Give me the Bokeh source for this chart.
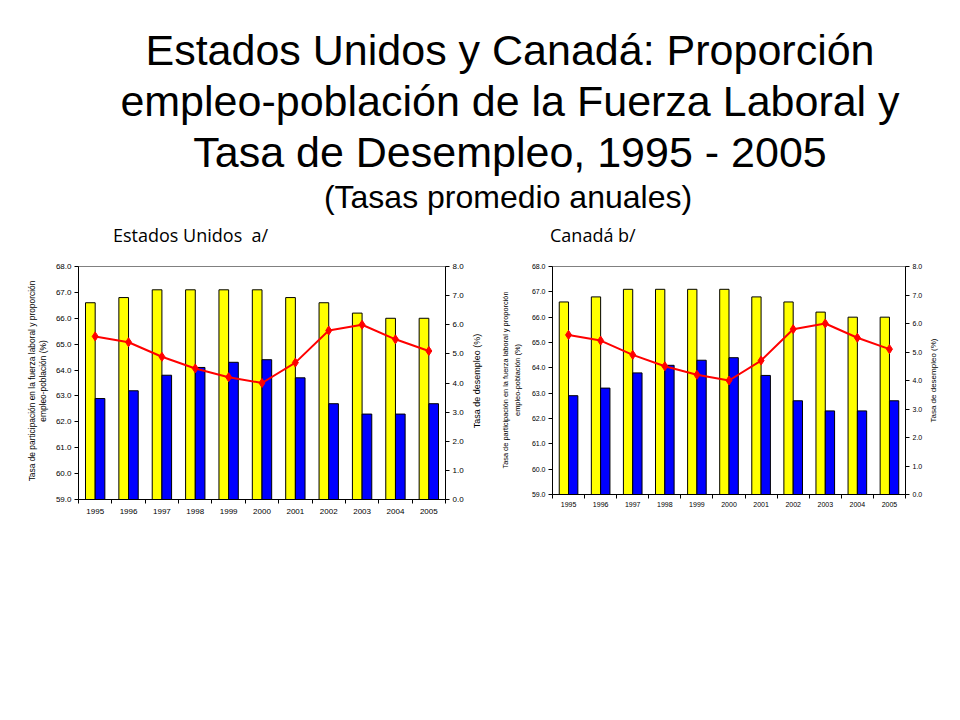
import numpy as np
from bokeh.plotting import figure
from bokeh.models import (Range1d, LinearAxis, FixedTicker, Legend, LegendItem,
                          Div, NumeralTickFormatter)
from bokeh.layouts import column, row
from bokeh.embed import file_html
from bokeh.resources import INLINE

# ---------------- data ----------------
years = ["1995", "1996", "1997", "1998", "1999", "2000",
         "2001", "2002", "2003", "2004", "2005"]

us_participation = [66.6, 66.8, 67.1, 67.1, 67.1, 67.1, 66.8, 66.6, 66.2, 66.0, 66.0]
us_employment = [62.9, 63.2, 63.8, 64.1, 64.3, 64.4, 63.7, 62.7, 62.3, 62.3, 62.7]
us_unemployment = [5.6, 5.4, 4.9, 4.5, 4.2, 4.0, 4.7, 5.8, 6.0, 5.5, 5.1]

ca_participation = [66.6, 66.8, 67.1, 67.1, 67.1, 67.1, 66.8, 66.6, 66.2, 66.0, 66.0]
ca_employment = [62.9, 63.2, 63.8, 64.1, 64.3, 64.4, 63.7, 62.7, 62.3, 62.3, 62.7]
ca_unemployment = [5.6, 5.4, 4.9, 4.5, 4.2, 4.0, 4.7, 5.8, 6.0, 5.5, 5.1]

left_ticks = [59, 60, 61, 62, 63, 64, 65, 66, 67, 68]
right_ticks = [0, 1, 2, 3, 4, 5, 6, 7, 8]

us_labels = ["Tasa de participación en la fuerza laboral",
             "Proporción Empleo-Población",
             "Tasa de desempleo"]
ca_labels = ["Tasa de participación en la fuerza laboral",
             "Proporción empleo-población",
             "Tasa de desempleo"]
left_axis_lines = ["Tasa de participación en la fuerza laboral y proporción",
                   "empleo-población (%)"]
right_axis_label = "Tasa de desempleo (%)"

FONT = "Liberation Sans"
ROW_H = 302


def make_chart(part, emp, unemp, labels, frame_w, frame_h, bl, br, bt, bb,
               tick_fs, x_standoff, leg_fs, leg_margin, leg_pad, leg_spacing,
               glyph_w, leg_label_h):
    n = len(years)
    centers = np.arange(n) + 0.5
    p = figure(frame_width=frame_w, frame_height=frame_h, x_range=Range1d(0, n),
               y_range=Range1d(left_ticks[0], left_ticks[-1]),
               output_backend="svg", toolbar_location=None,
               min_border_left=bl, min_border_right=br,
               min_border_top=bt, min_border_bottom=bb)
    p.extra_y_ranges = {"u": Range1d(right_ticks[0], right_ticks[-1])}
    p.xgrid.visible = False
    p.ygrid.visible = False
    p.outline_line_color = "#808080"

    r_y = p.vbar(x=centers - 0.145, top=part, bottom=left_ticks[0], width=0.29,
                 fill_color="#FFFF00", line_color="black", line_width=1)
    r_b = p.vbar(x=centers + 0.145, top=emp, bottom=left_ticks[0], width=0.29,
                 fill_color="#0000FF", line_color="black", line_width=1)
    r_l = p.line(x=centers, y=unemp, y_range_name="u", line_color="#FF0000", line_width=2)
    r_s = p.scatter(x=centers, y=unemp, y_range_name="u", marker="diamond", size=9,
                    fill_color="#FF0000", line_color="#FF0000")

    xa = p.xaxis[0]
    xa.ticker = FixedTicker(ticks=list(centers), minor_ticks=list(range(n + 1)))
    xa.major_label_overrides = {float(c): y for c, y in zip(centers, years)}
    xa.major_tick_line_color = None
    xa.minor_tick_out = 4
    xa.minor_tick_in = 0
    xa.major_label_standoff = x_standoff
    xa.major_label_text_font = FONT
    xa.major_label_text_font_size = tick_fs
    xa.major_label_text_color = "black"

    ya = p.yaxis[0]
    ya.ticker = FixedTicker(ticks=left_ticks)
    ya.formatter = NumeralTickFormatter(format="0.0")
    ya.major_tick_out = 4
    ya.major_tick_in = 0
    ya.minor_tick_line_color = None
    ya.major_label_standoff = 3
    ya.major_label_text_font = FONT
    ya.major_label_text_font_size = tick_fs
    ya.major_label_text_color = "black"

    ra = LinearAxis(y_range_name="u", ticker=FixedTicker(ticks=right_ticks),
                    formatter=NumeralTickFormatter(format="0.0"))
    ra.major_tick_out = 4
    ra.major_tick_in = 0
    ra.minor_tick_line_color = None
    ra.major_label_standoff = 3
    ra.major_label_text_font = FONT
    ra.major_label_text_font_size = tick_fs
    ra.major_label_text_color = "black"
    p.add_layout(ra, "right")

    legend = Legend(items=[LegendItem(label=labels[0], renderers=[r_y]),
                           LegendItem(label=labels[1], renderers=[r_b]),
                           LegendItem(label=labels[2], renderers=[r_l, r_s])],
                    orientation="horizontal", location="center",
                    border_line_color="black", border_line_width=1,
                    background_fill_color="white",
                    glyph_height=6, glyph_width=glyph_w, label_standoff=2,
                    spacing=leg_spacing, padding=leg_pad, margin=leg_margin,
                    label_text_font=FONT, label_text_font_size=leg_fs,
                    label_height=leg_label_h)
    p.add_layout(legend, "below")
    return p


def axis_title_div(lines, width, cx, cy, font_size, line_h, block_w):
    """Vertical (rotated) axis title as HTML text."""
    h = line_h * len(lines)
    html = (
        f'<div style="position:relative;width:{width}px;height:{ROW_H}px;">'
        f'<div style="position:absolute;left:{cx - block_w / 2}px;top:{cy - h / 2}px;'
        f'width:{block_w}px;height:{h}px;text-align:center;color:#000;'
        f"font-family:'Liberation Sans',Arial,sans-serif;font-size:{font_size}px;"
        f'line-height:{line_h}px;white-space:nowrap;transform:rotate(-90deg);'
        f'transform-origin:50% 50%;">' + "<br>".join(lines) + "</div></div>"
    )
    return Div(text=html, width=width, height=ROW_H, margin=0)


p_us = make_chart(us_participation, us_employment, us_unemployment, us_labels,
                  frame_w=367, frame_h=233, bl=28, br=26, bt=8, bb=61,
                  tick_fs="8px", x_standoff=3, leg_fs="7.3px", leg_margin=4,
                  leg_pad=5, leg_spacing=6, glyph_w=22, leg_label_h=8)
p_ca = make_chart(ca_participation, ca_employment, ca_unemployment, ca_labels,
                  frame_w=353, frame_h=228, bl=24, br=22, bt=10, bb=64,
                  tick_fs="7px", x_standoff=1, leg_fs="7px", leg_margin=16,
                  leg_pad=4, leg_spacing=4, glyph_w=22, leg_label_h=7)

us_left = axis_title_div(left_axis_lines, 50, 37.5, 124.5, 8.4, 11, 240)
us_right = axis_title_div([right_axis_label], 29, 6, 124.5, 9, 12, 200)
ca_left = axis_title_div(left_axis_lines, 28, 12, 124, 7.4, 12, 220)
ca_right = axis_title_div([right_axis_label], 28, 6, 124, 8, 11, 200)

title_html = """
<div style="position:relative;width:955px;height:256px;color:#000;">
  <div style="position:absolute;left:60px;top:25px;width:900px;text-align:center;
              font-family:'Liberation Sans',Arial,sans-serif;font-size:43px;line-height:51px;">
    Estados Unidos y Canadá: Proporción<br>empleo-población de la Fuerza Laboral y<br>Tasa de Desempleo, 1995 - 2005
  </div>
  <div style="position:absolute;left:208px;top:179px;width:600px;text-align:center;
              font-family:'Liberation Sans',Arial,sans-serif;font-size:32px;line-height:36px;">
    (Tasas promedio anuales)
  </div>
  <div style="position:absolute;left:113px;top:223px;font-family:'Open Sans',sans-serif;
              font-size:18px;line-height:24px;white-space:pre;">Estados Unidos  a/</div>
  <div style="position:absolute;left:550px;top:223px;font-family:'Open Sans',sans-serif;
              font-size:18px;line-height:24px;white-space:pre;">Canadá b/</div>
</div>
"""
title_div = Div(text=title_html, width=955, height=256, margin=0)

foot_html = """
<div style="position:relative;width:955px;height:110px;color:#000;
            font-family:'Open Sans',sans-serif;font-size:12.7px;line-height:16px;">
  <div style="position:absolute;left:60px;top:64px;white-space:pre;">Fuente: Base de datos de la OIT. Castillo et al (2006).</div>
  <div style="position:absolute;left:60px;top:80px;white-space:pre;">a/Nota: Todas las series se refieren a personas de 16 años y mayores.</div>
  <div style="position:absolute;left:498px;top:80px;white-space:pre;">b/ Todas las series se refieren a personas de 16 años y mayores.</div>
</div>
"""
foot_div = Div(text=foot_html, width=955, height=110, margin=0)

charts = row(us_left, p_us, us_right, ca_left, p_ca, ca_right, spacing=0)
layout = column(title_div, charts, foot_div, spacing=0)

open("out.html", "w").write(file_html(layout, INLINE))
